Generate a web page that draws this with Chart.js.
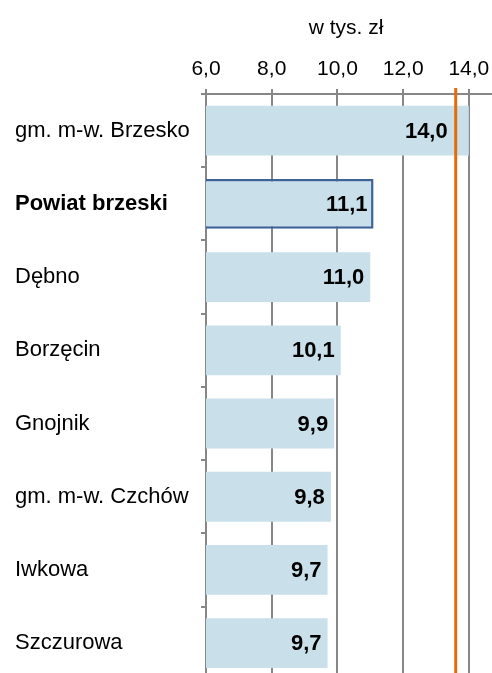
<!DOCTYPE html>
<html>
<head>
<meta charset="utf-8">
<script src="https://cdn.jsdelivr.net/npm/chart.js@4.4.0/dist/chart.umd.min.js"></script>
<style>
  html, body { margin: 0; padding: 0; overflow: hidden; background: #fff; }
  #chart { position: absolute; left: 0; top: 0; }
  #unit {
    position: absolute; top: 14px; left: 346px; transform: translateX(-50%);
    font: 21px "Liberation Sans", Arial, sans-serif; line-height: 26px; color: #000;
    white-space: nowrap;
  }
</style>
</head>
<body>
<canvas id="chart" width="562" height="696"></canvas>
<div id="unit">w tys. zł</div>
<script>
  const categories = ['gm. m-w. Brzesko', 'Powiat brzeski', 'Dębno', 'Borzęcin', 'Gnojnik', 'gm. m-w. Czchów', 'Iwkowa', 'Szczurowa'];
  const values = [14.0, 11.1, 11.0, 10.1, 9.9, 9.8, 9.7, 9.7];
  const referenceValue = 13.6;
  const tickValues = [6, 8, 10, 12, 14, 16];
  const highlighted = 'Powiat brzeski';

  const FONT = '"Liberation Sans", Arial, sans-serif';
  const GRID = '#878787';
  const fmt = (v) => Number(v).toFixed(1).replace('.', ',');

  // orange reference line + bold value labels inside bar ends
  const overlay = {
    id: 'overlay',
    afterDatasetsDraw(chart) {
      const { ctx, chartArea, scales } = chart;
      const lineX = scales.x.getPixelForValue(referenceValue);
      ctx.save();
      ctx.strokeStyle = '#e36c09';
      ctx.lineWidth = 3;
      ctx.beginPath();
      ctx.moveTo(lineX, chartArea.top - 6);
      ctx.lineTo(lineX, chartArea.bottom);
      ctx.stroke();

      ctx.font = 'bold 22px ' + FONT;
      ctx.fillStyle = '#000';
      ctx.textAlign = 'right';
      ctx.textBaseline = 'middle';
      chart.getDatasetMeta(0).data.forEach((bar, i) => {
        const txt = fmt(values[i]);
        const w = ctx.measureText(txt).width;
        let right = bar.x - 6;
        if (right > lineX - 8 && right - w < lineX + 8) right = lineX - 8;
        ctx.fillText(txt, right, bar.y + 1);
      });
      ctx.restore();
    }
  };

  new Chart(document.getElementById('chart'), {
    type: 'bar',
    data: {
      labels: categories,
      datasets: [{
        data: values,
        backgroundColor: '#c9e0ea',
        borderColor: categories.map((c) => c === highlighted ? '#3d6397' : 'rgba(0,0,0,0)'),
        borderWidth: categories.map((c) => c === highlighted ? 2.5 : 0),
        borderSkipped: false,
        barPercentage: 0.68,
        categoryPercentage: 1
      }]
    },
    options: {
      indexAxis: 'y',
      responsive: false,
      animation: false,
      layout: { padding: { left: 15, top: 0, right: 0, bottom: 0 } },
      plugins: { legend: { display: false }, tooltip: { enabled: false } },
      scales: {
        x: {
          position: 'top',
          min: 6,
          max: 16,
          afterBuildTicks: (scale) => { scale.ticks = tickValues.map((v) => ({ value: v })); },
          afterFit: (scale) => { scale.height = 94; },
          grid: { color: GRID, lineWidth: 2, tickLength: 5, drawTicks: true },
          border: { display: true, color: GRID, width: 2 },
          ticks: {
            color: '#000',
            font: { family: FONT, size: 21 },
            padding: 7,
            maxRotation: 0,
            callback: (v) => fmt(v)
          }
        },
        y: {
          afterFit: (scale) => { scale.width = 191; },
          grid: { display: true, drawOnChartArea: false, color: GRID, lineWidth: 2, tickLength: 5, offset: true },
          border: { display: true, color: GRID, width: 2 },
          ticks: {
            color: '#000',
            crossAlign: 'far',
            font: (c) => ({ family: FONT, size: 22, weight: categories[c.index] === highlighted ? 'bold' : 'normal' })
          }
        }
      }
    },
    plugins: [overlay]
  });
</script>
</body>
</html>
